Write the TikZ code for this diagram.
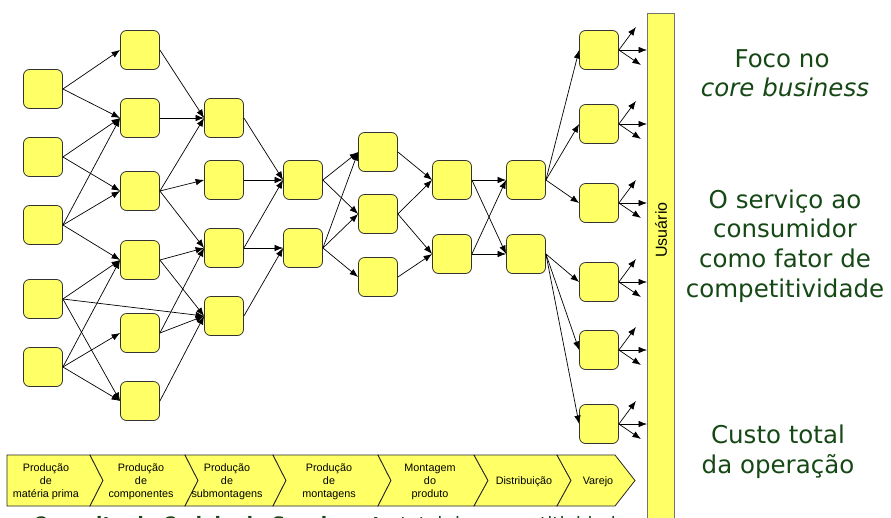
\documentclass[tikz,border=0pt]{standalone}
\usepackage{fontspec}
\setmainfont{Liberation Sans}
\newfontfamily\rfont{DejaVu Sans}
\usetikzlibrary{arrows.meta,calc}
\definecolor{boxy}{RGB}{255,255,102}
\definecolor{dgreen}{RGB}{22,72,22}
\begin{document}
\begin{tikzpicture}[x=1pt,y=-1pt,
  box/.style={draw=black!80, fill=boxy, rounded corners=6pt, minimum width=39pt, minimum height=39pt, inner sep=0pt, line width=0.8pt},
  arr/.style={-{Latex[length=8.5pt,width=6.5pt]}, line width=0.7pt},
  chev/.style={draw=black!85, fill=boxy, line width=0.8pt},
  chevtxt/.style={font=\fontsize{10.8}{13}\selectfont, align=center, inner sep=0pt},
  rtxt/.style={font=\rfont\fontsize{24.5}{29}\selectfont, text=dgreen, anchor=base, inner sep=0pt}]
\useasboundingbox (0,0) rectangle (891,517);

% column 1
\node[box] (a1) at (43,89) {};
\node[box] (a2) at (43,157) {};
\node[box] (a3) at (43,225) {};
\node[box] (a4) at (43,299) {};
\node[box] (a5) at (43,367) {};
% column 2
\node[box] (b1) at (140,50) {};
\node[box] (b2) at (140,118) {};
\node[box] (b3) at (140,191) {};
\node[box] (b4) at (140,260) {};
\node[box] (b5) at (140,333) {};
\node[box] (b6) at (140,401) {};
% column 3
\node[box] (c1) at (224,118) {};
\node[box] (c2) at (224,180) {};
\node[box] (c3) at (224,248) {};
\node[box] (c4) at (224,316) {};
% column 4
\node[box] (d1) at (303,180) {};
\node[box] (d2) at (303,248) {};
% column 5
\node[box] (e1) at (378,152) {};
\node[box] (e2) at (378,214) {};
\node[box] (e3) at (378,277) {};
% column 6
\node[box] (f1) at (452,180) {};
\node[box] (f2) at (452,254) {};
% column 7
\node[box] (g1) at (526,180) {};
\node[box] (g2) at (526,254) {};
% column 8
\node[box] (h1) at (599,50) {};
\node[box] (h2) at (599,124) {};
\node[box] (h3) at (599,203) {};
\node[box] (h4) at (599,282) {};
\node[box] (h5) at (599,350) {};
\node[box] (h6) at (599,424) {};

% user bar
\node[draw=black!55, fill=boxy, line width=0.8pt, minimum width=27pt, minimum height=520pt, inner sep=0pt, anchor=north west] (bar) at (647,13) {};
\node[rotate=90, font=\fontsize{16}{18}\selectfont, inner sep=0pt] (ut) at (661,230) {Usuário};

% edges
\foreach \s/\t in {a1/b1,a1/b2,a2/b2,a2/b3,a3/b2,a3/b3,a3/b4,a4/b4,a4/c4,a4/b6,a5/b4,a5/b5,a5/b6,
  b1/c1,b2/c1,b3/c1,b3/c2,b3/c3,b4/c3,b4/c4,b5/c3,b5/c4,b6/c4,
  c1/d1,c2/d1,c3/d1,c3/d2,c4/d2,
  d1/e1,d1/e2,d2/e1,d2/e2,d2/e3,
  e1/f1,e2/f1,e2/f2,e3/f2,
  f1/g1,f1/g2,f2/g1,f2/g2,
  g1/h1,g1/h2,g1/h3,g2/h4,g2/h5,g2/h6}
  \draw[arr] (\s.east) -- (\t.west);

\foreach \h in {h1,h2,h3,h4,h5,h6}{
  \draw[arr] (\h.east) -- ($(\h.east)+(17,-23)$);
  \draw[arr] (\h.east) -- (\h.east -| bar.west);
  \draw[arr] (\h.east) -- ($(\h.east)+(22,15)$);
}

% chevron bar
\filldraw[chev] (7,455) -- (90,455) -- (103,480.5) -- (90,506) -- (7,506) -- cycle;
\filldraw[chev] (90,455) -- (185,455) -- (198,480.5) -- (185,506) -- (90,506) -- (103,480.5) -- cycle;
\filldraw[chev] (185,455) -- (273,455) -- (286,480.5) -- (273,506) -- (185,506) -- (198,480.5) -- cycle;
\filldraw[chev] (273,455) -- (378,455) -- (391,480.5) -- (378,506) -- (273,506) -- (286,480.5) -- cycle;
\filldraw[chev] (378,455) -- (474,455) -- (488,480.5) -- (474,506) -- (378,506) -- (391,480.5) -- cycle;
\filldraw[chev] (474,455) -- (557,455) -- (571,480.5) -- (557,506) -- (474,506) -- (488,480.5) -- cycle;
\filldraw[chev] (557,455) -- (615,455) -- (635,480.5) -- (615,506) -- (557,506) -- (571,480.5) -- cycle;

\node[chevtxt] (s1) at (46,482) {Produção\\de\\matéria prima};
\node[chevtxt] (s2) at (141,482) {Produção\\de\\componentes};
\node[chevtxt] (s3) at (227,482) {Produção\\de\\submontagens};
\node[chevtxt] (s4) at (329,482) {Produção\\de\\montagens};
\node[chevtxt] (s5) at (430,482) {Montagem\\do\\produto};
\node[chevtxt] (s6) at (524,482) {Distribuição};
\node[chevtxt] (s7) at (598,482) {Varejo};

% right texts
\node[rtxt] (r1) at (782,67.7) {Foco no};
\node[rtxt] (r2) at (785,96.7) {\itshape core business};
\node[rtxt] (r3) at (785,208) {O serviço ao};
\node[rtxt] (r4) at (785,237) {consumidor};
\node[rtxt] (r5) at (785,267) {como fator de};
\node[rtxt] (r6) at (785,297) {competitividade};
\node[rtxt] (r7) at (778,443) {Custo total};
\node[rtxt] (r8) at (778,473) {da operação};

% bottom caption (cut by the frame, as in the reference)
\node[font=\rfont\bfseries\fontsize{18.5}{22}\selectfont, text=dgreen, anchor=base west, inner sep=0pt] (cap) at (33,530) {Conceito de Cadeia de Suprimento {\mdseries total da competitividade}};
\end{tikzpicture}
\end{document}
